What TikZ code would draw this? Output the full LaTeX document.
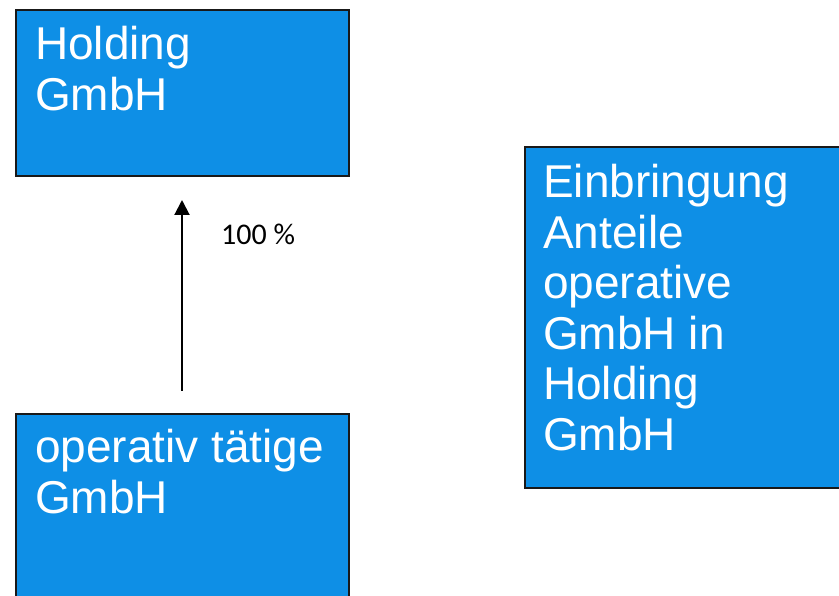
\documentclass[tikz,border=0pt]{standalone}
\usepackage{fontspec}
\setmainfont{Liberation Sans}
\newfontfamily\labelfont{Carlito}
\usetikzlibrary{arrows.meta}
\definecolor{boxblue}{RGB}{14,143,230}
\tikzset{
  bluebox/.style={draw=black!90, line width=1.6pt, fill=boxblue, rectangle, inner sep=0pt},
  boxtext/.style={anchor=base west, inner sep=0pt, text=white, align=left,
    font=\fontsize{46}{50.5}\selectfont},
  pct/.style={anchor=base west, inner sep=0pt, font=\labelfont\fontsize{30}{33}\selectfont},
  link/.style={line width=2pt, -{Triangle[length=15pt,width=15pt]}}
}
\begin{document}
\begin{tikzpicture}[x=1pt,y=-1pt]
\useasboundingbox (0,0) rectangle (839,596);
\fill[white] (0,0) rectangle (839,596);
\node[bluebox, minimum width=333pt, minimum height=166pt, anchor=north west] (hold) at (15,9) {};
\node[bluebox, minimum width=320pt, minimum height=341pt, anchor=north west] (einb) at (524,146) {};
\node[bluebox, minimum width=333pt, minimum height=190pt, anchor=north west] (oper) at (15,413) {};
\node[boxtext] (holdtxt) at (35,110.5) {Holding\\GmbH};
\node[boxtext] (einbtxt) at (543,450) {Einbringung\\Anteile\\operative\\GmbH in\\Holding\\GmbH};
\node[boxtext] (opertxt) at (35,513) {operativ tätige\\GmbH};
\coordinate (tail) at (182,391);
\coordinate (tip) at (182,200);
\draw[link] (tail) -- (tip);
\node[pct] (pctlbl) at (221,245) {100 \%};
\end{tikzpicture}
\end{document}
